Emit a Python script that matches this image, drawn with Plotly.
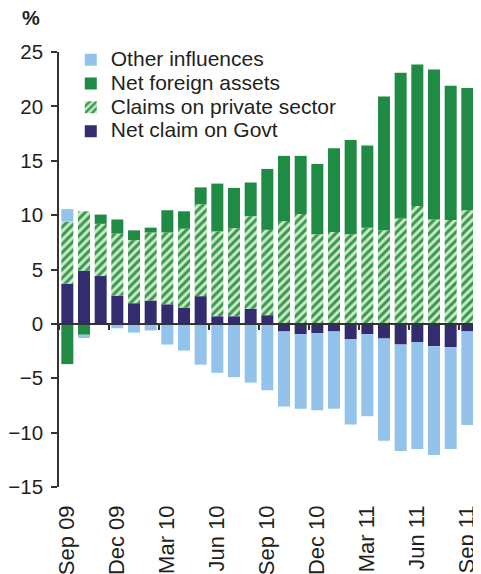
import plotly.graph_objects as go

months = ["Sep 09", "Oct 09", "Nov 09", "Dec 09", "Jan 10", "Feb 10", "Mar 10", "Apr 10",
          "May 10", "Jun 10", "Jul 10", "Aug 10", "Sep 10", "Oct 10", "Nov 10", "Dec 10",
          "Jan 11", "Feb 11", "Mar 11", "Apr 11", "May 11", "Jun 11", "Jul 11", "Aug 11", "Sep 11"]

govt = [3.7, 4.9, 4.4, 2.6, 1.9, 2.15, 1.8, 1.5, 2.55, 0.7, 0.7, 1.4, 0.8, -0.7, -0.95, -0.85,
        -0.7, -1.4, -0.95, -1.35, -1.9, -1.7, -2.05, -2.15, -0.7]
private = [5.7, 5.45, 4.8, 5.7, 5.8, 6.25, 6.6, 7.25, 8.45, 7.8, 8.1, 8.5, 7.85, 9.45, 10.1, 8.25,
           8.45, 8.25, 8.85, 8.6, 9.7, 10.85, 9.6, 9.55, 10.45]
nfa = [-3.7, -1.0, 0.85, 1.3, 0.9, 0.45, 2.05, 1.6, 1.55, 4.4, 3.7, 3.1, 5.6, 6.0, 5.35, 6.45,
       7.7, 8.65, 7.55, 12.3, 13.4, 13.0, 13.8, 12.35, 11.25]
other = [1.15, -0.3, 0.0, -0.4, -0.8, -0.6, -1.9, -2.45, -3.75, -4.5, -4.9, -5.4, -6.1, -6.9,
         -6.85, -7.1, -7.1, -7.85, -7.55, -9.4, -9.8, -9.8, -10.0, -9.35, -8.6]

y_ticks = [-15, -10, -5, 0, 5, 10, 15, 20, 25]

xs = list(range(len(months)))
label_idx = xs[::3]
label_txt = [months[i] for i in label_idx]
boundary_ticks = [i - 0.5 for i in label_idx]

FONT = "Liberation Sans, Arial, sans-serif"
TXT = "#231f20"


def lg(name):
    return '<span style="font-size:21px">' + name + "</span>"


fig = go.Figure()
fig.add_trace(go.Bar(x=xs, y=govt, name=lg("Net claim on Govt"),
                     marker=dict(color="#332d70", line=dict(width=0))))
fig.add_trace(go.Bar(x=xs, y=private, name=lg("Claims on private sector"),
                     marker=dict(color="#cdeac8", line=dict(width=0),
                                 pattern=dict(shape="/", fgcolor="#37984f", bgcolor="#cdeac8",
                                              size=6, solidity=0.5, fillmode="replace"))))
fig.add_trace(go.Bar(x=xs, y=nfa, name=lg("Net foreign assets"),
                     marker=dict(color="#1f8b45", line=dict(width=0))))
fig.add_trace(go.Bar(x=xs, y=other, name=lg("Other influences"),
                     marker=dict(color="#93c3ea", line=dict(width=0))))
# helper trace so the zero-line axis is drawn
fig.add_trace(go.Scatter(x=[0], y=[0], xaxis="x2", mode="markers", marker=dict(opacity=0),
                         showlegend=False, hoverinfo="skip"))

xr = [-0.5, 24.76]
fig.update_layout(
    width=473, height=566,
    margin=dict(l=51, r=1, t=44, b=87, autoexpand=False),
    paper_bgcolor="white", plot_bgcolor="white",
    barmode="relative", bargap=0.28,
    font=dict(family=FONT, size=20, color=TXT),
    showlegend=True,
    legend=dict(x=0.028, y=1.021, xanchor="left", yanchor="top", traceorder="reversed",
                font=dict(size=16, color=TXT), bgcolor="rgba(0,0,0,0)", tracegroupgap=0),
    xaxis=dict(range=xr, tickmode="array", tickvals=label_idx, ticktext=label_txt,
               tickangle=-90, showline=False, ticks="", showgrid=False, zeroline=False,
               ticklabelstandoff=13, tickfont=dict(size=22, color=TXT)),
    xaxis2=dict(range=xr, overlaying="x", anchor="free", position=0.375, side="bottom",
                showline=True, linecolor="#333333", linewidth=1.5,
                ticks="outside", ticklen=5, tickwidth=1.5, tickcolor="#333333",
                tickmode="array", tickvals=boundary_ticks, showticklabels=False,
                showgrid=False, zeroline=False),
    yaxis=dict(range=[-15, 25], tickmode="array", tickvals=y_ticks,
               showline=True, linecolor="#333333", linewidth=1.5,
               ticks="outside", ticklen=6, tickwidth=1.5, tickcolor="#333333",
               showgrid=False, zeroline=False, ticklabelstandoff=4,
               tickfont=dict(size=20.5, color=TXT)),
    annotations=[dict(text="<b>%</b>", xref="paper", yref="paper", x=-0.093, y=1.079,
                      xanchor="left", yanchor="middle", showarrow=False,
                      font=dict(size=20, color=TXT))],
)

fig.write_html("out.html")
